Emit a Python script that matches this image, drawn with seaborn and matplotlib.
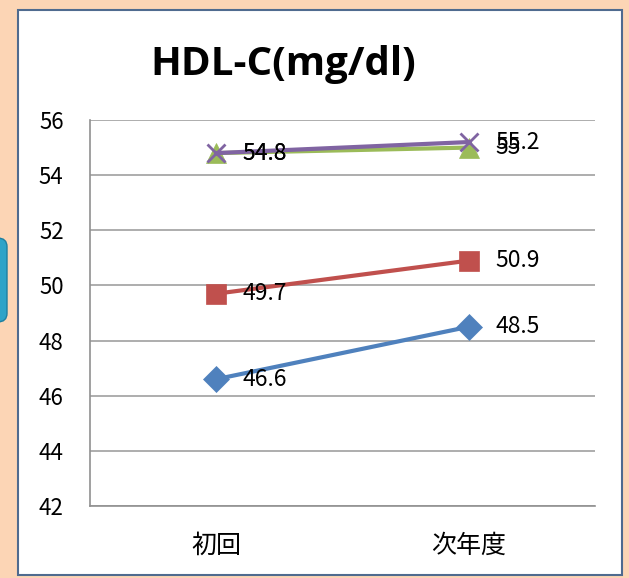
import matplotlib
matplotlib.use("Agg")
import matplotlib.pyplot as plt
import seaborn as sns
import pandas as pd
from matplotlib.patches import FancyBboxPatch, Rectangle

categories = ["初回", "次年度"]
series_names = ["A", "B", "C", "D"]
values_a = [46.6, 48.5]
values_b = [49.7, 50.9]
values_c = [54.8, 55.0]
values_d = [54.8, 55.2]
label_c = ["54.8", "55"]
label_d = ["54.8", "55.2"]
label_a = ["46.6", "48.5"]
label_b = ["49.7", "50.9"]
title = "HDL-C(mg/dl)"
yticks = [42, 44, 46, 48, 50, 52, 54, 56]

sns.set_theme(style="white")
plt.rcParams['font.family'] = ['Noto Sans CJK JP', 'DejaVu Sans']
plt.rcParams['text.color'] = 'black'
plt.rcParams['xtick.color'] = 'black'
plt.rcParams['ytick.color'] = 'black'

rows = []
for name, vals in zip(series_names, [values_a, values_b, values_c, values_d]):
    for i, v in enumerate(vals):
        rows.append({"series": name, "x": i, "y": v})
df = pd.DataFrame(rows)

colors = {"A": "#4F81BD", "B": "#C0504D", "C": "#9BBB59", "D": "#8064A2"}
markers = {"A": "D", "B": "s", "C": "^", "D": "x"}
msizes = {"A": 13, "B": 14, "C": 14, "D": 13}

fig = plt.figure(figsize=(6.29, 5.78), dpi=100)
fig.patch.set_facecolor("#FCD5B5")

# white chart box
fig.patches.append(Rectangle((18/629, 1-575/578), (622-18)/629, (575-10)/578,
                             transform=fig.transFigure, facecolor="white",
                             edgecolor="#4F6B8F", linewidth=1.5, zorder=-2))
# partial teal button at left edge
fig.patches.append(FancyBboxPatch((-20/629, 1-322/578), 27/629, 84/578,
                                  boxstyle="round,pad=0,rounding_size=0.015",
                                  transform=fig.transFigure, facecolor="#2EA3C8",
                                  edgecolor="#1E7FA0", linewidth=1, zorder=-2))

ax = fig.add_axes([90/629, 1-506/578, (595-90)/629, (506-120)/578])
ax.set_zorder(2)
ax.set_facecolor("none")

for name in series_names:
    sub = df[df["series"] == name]
    sns.lineplot(data=sub, x="x", y="y", ax=ax, color=colors[name],
                 marker=markers[name], markersize=msizes[name],
                 markeredgecolor=colors[name], markeredgewidth=2 if name == "D" else 0.5,
                 linewidth=3, legend=False, zorder=3)

for labels, vals in [(label_a, values_a), (label_b, values_b), (label_c, values_c), (label_d, values_d)]:
    for i, (lab, v) in enumerate(zip(labels, vals)):
        ax.annotate(lab, (i, v), xytext=(19, 0), textcoords="offset points",
                    va="center", ha="left", fontsize=16.5, color="black", zorder=5)

ax.set_xlim(-0.5, 1.5)
ax.set_ylim(42, 56)
ax.set_yticks(yticks)
ax.set_xticks([0, 1])
ax.set_xticklabels(categories)
ax.yaxis.grid(True, color="#A0A0A0", linewidth=1.2)
ax.set_xlabel("")
ax.set_ylabel("")
for s in ["top", "right"]:
    ax.spines[s].set_visible(False)
for s in ["left", "bottom"]:
    ax.spines[s].set_color("#909090")
    ax.spines[s].set_linewidth(1.2)
ax.tick_params(axis="both", length=0)
ax.tick_params(axis="y", labelsize=16, pad=19)
ax.tick_params(axis="x", labelsize=18, pad=19)

fig.text(283/629, 1-64/578, title, ha="center", va="center", color="black",
         fontsize=29, fontweight="bold", family=["Open Sans", "DejaVu Sans"])

fig.savefig("out.png", dpi=100, facecolor=fig.get_facecolor())
